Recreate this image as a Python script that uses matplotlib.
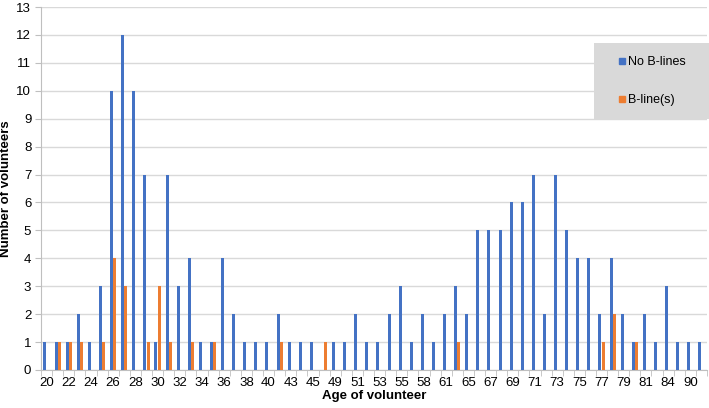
import numpy as np
import matplotlib
matplotlib.use("Agg")
import matplotlib.pyplot as plt
from matplotlib.patches import Rectangle
from matplotlib.lines import Line2D

plt.rcParams['font.family'] = ['Liberation Sans', 'DejaVu Sans']

# ages shown on the category axis (one category per age group present)
ages = [20, 21, 22, 23, 24, 25, 26, 27, 28, 29, 30, 31, 32, 33, 34, 35, 36, 37, 38, 39,
        40, 42, 43, 44, 45, 47, 49, 50, 51, 52, 53, 54, 55, 57, 58, 60, 61, 63, 65, 66,
        67, 68, 69, 70, 71, 72, 73, 74, 75, 76, 77, 78, 79, 80, 81, 83, 84, 87, 90, 91]

no_blines = [1, 1, 1, 2, 1, 3, 10, 12, 10, 7, 1, 7, 3, 4, 1, 1, 4, 2, 1, 1,
             1, 2, 1, 1, 1, 0, 1, 1, 2, 1, 1, 2, 3, 1, 2, 1, 2, 3, 2, 5,
             5, 5, 6, 6, 7, 2, 7, 5, 4, 4, 2, 4, 2, 1, 2, 1, 3, 1, 1, 1]

blines = [0, 1, 1, 1, 0, 1, 4, 3, 0, 1, 3, 1, 0, 1, 0, 1, 0, 0, 0, 0,
          0, 1, 0, 0, 0, 1, 0, 0, 0, 0, 0, 0, 0, 0, 0, 0, 0, 1, 0, 0,
          0, 0, 0, 0, 0, 0, 0, 0, 0, 0, 1, 2, 0, 1, 0, 0, 0, 0, 0, 0]

blue = '#4472C4'
orange = '#ED7D31'

W, H = 709, 408
fig = plt.figure(figsize=(W / 100, H / 100), dpi=100)
ax = fig.add_axes([41 / W, 1 - 370 / H, 666 / W, 363 / H])

x = np.arange(len(ages))
w = 0.27
ax.bar(x - 0.14, no_blines, width=w, color=blue, zorder=3)
ax.bar(x + 0.14, blines, width=w, color=orange, zorder=3)

ax.set_xlim(-0.5, len(ages) - 0.5)
ax.set_ylim(0, 13)
ax.set_yticks(range(0, 14))
ax.yaxis.grid(True, color='#D9D9D9', linewidth=1, zorder=0)

ax.set_xticks(x[::2])
ax.set_xticklabels([str(a) for a in ages[::2]], fontsize=9.5)
ax.set_xticks(np.arange(-0.5, len(ages), 1), minor=True)
ax.tick_params(axis='x', which='major', length=0, pad=5)
ax.tick_params(axis='x', which='minor', length=4, color='#BFBFBF')
ax.tick_params(axis='y', length=4, color='#BFBFBF', labelsize=9.5, pad=3)

for s in ['top', 'right']:
    ax.spines[s].set_visible(False)
for s in ['left', 'bottom']:
    ax.spines[s].set_color('#BFBFBF')

ax.set_xlabel('Age of volunteer', fontsize=9.5, fontweight='bold', labelpad=1)
ax.set_ylabel('Number of volunteers', fontsize=9.5, fontweight='bold', labelpad=3)

# grey legend panel
fig.patches.append(Rectangle((594 / W, 1 - 119 / H), 115 / W, 76 / H,
                             transform=fig.transFigure, facecolor='#D9D9D9',
                             edgecolor='none', zorder=4))
handles = [Line2D([], [], marker='s', linestyle='none', markersize=4,
                  markerfacecolor=c, markeredgecolor=c) for c in (blue, orange)]
leg = fig.legend(handles, ['No B-lines', 'B-line(s)'], loc='upper left',
                 bbox_to_anchor=(619 / W, 1 - 56 / H), fontsize=9, frameon=False,
                 handlelength=0.5, handletextpad=0.2,
                 labelspacing=2.1, borderpad=0, borderaxespad=0)
leg.set_zorder(5)

fig.savefig('out.png', dpi=100)
